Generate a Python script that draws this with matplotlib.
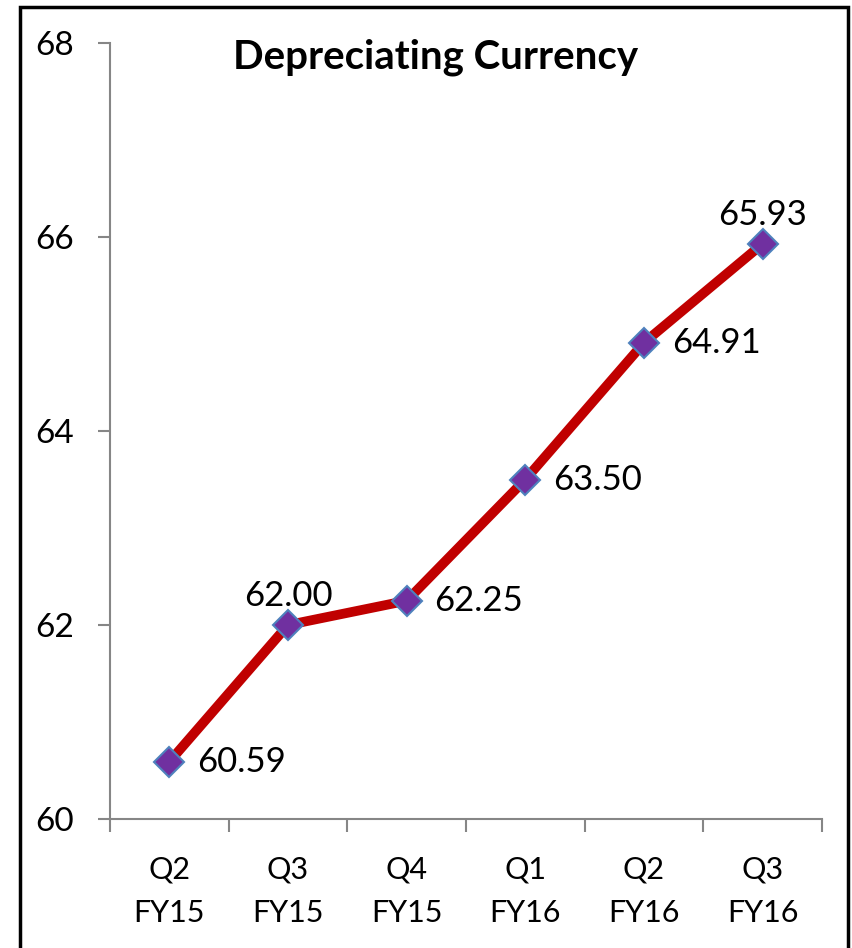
import matplotlib.pyplot as plt
from matplotlib.patches import Rectangle

# ------------------------------------------------------------
# Data
# ------------------------------------------------------------
quarters = ["Q2\nFY15", "Q3\nFY15", "Q4\nFY15", "Q1\nFY16", "Q2\nFY16", "Q3\nFY16"]
rates = [60.59, 62.00, 62.25, 63.50, 64.91, 65.93]
label_pos = ["right", "above", "right", "right", "right", "above"]
y_ticks = [60, 62, 64, 66, 68]

plt.rcParams["font.family"] = ["Lato", "DejaVu Sans"]

AXIS_GREY = "#868686"

fig = plt.figure(figsize=(8.52, 9.48), dpi=100)
ax = fig.add_axes([110 / 852, 1 - 819 / 948, 712 / 852, (819 - 43) / 948])

x = list(range(len(quarters)))
ax.plot(x, rates, color="#C00000", linewidth=7, solid_capstyle="round",
        marker="D", markersize=15, markerfacecolor="#7030A0",
        markeredgecolor="#4F81BD", markeredgewidth=1.5, zorder=3)

for xi, v, pos in zip(x, rates, label_pos):
    if pos == "above":
        ax.annotate(f"{v:.2f}", (xi, v), xytext=(0, 9), textcoords="offset points",
                    ha="center", va="bottom", fontsize=25)
    else:
        ax.annotate(f"{v:.2f}", (xi, v), xytext=(20, 0), textcoords="offset points",
                    ha="left", va="center", fontsize=25)

ax.set_xlim(-0.5, len(quarters) - 0.5)
ax.set_ylim(60, 68)
ax.set_yticks(y_ticks)
ax.set_yticklabels([str(t) for t in y_ticks])

# category labels centred, tick marks on the boundaries
ax.set_xticks(x)
ax.set_xticklabels(quarters, fontsize=22, linespacing=1.7)
ax.set_xticks([i - 0.5 for i in range(len(quarters) + 1)], minor=True)
ax.tick_params(axis="x", which="major", length=0, pad=26)
ax.tick_params(axis="x", which="minor", length=9, width=1.5, color=AXIS_GREY)
ax.tick_params(axis="y", length=9, width=1.5, color=AXIS_GREY, labelsize=24, pad=17)

for side in ["top", "right"]:
    ax.spines[side].set_visible(False)
for side in ["left", "bottom"]:
    ax.spines[side].set_color(AXIS_GREY)
    ax.spines[side].set_linewidth(1.5)

fig.text(436 / 852, 1 - 57 / 948, "Depreciating Currency", ha="center", va="center",
         fontsize=29, fontweight="bold")

# chart border
fig.patches.append(Rectangle((20 / 852, -0.05), (848 - 20) / 852, 1.05 - 7 / 948,
                             transform=fig.transFigure, fill=False,
                             edgecolor="black", linewidth=2.5))

fig.savefig("out.png", dpi=100)
